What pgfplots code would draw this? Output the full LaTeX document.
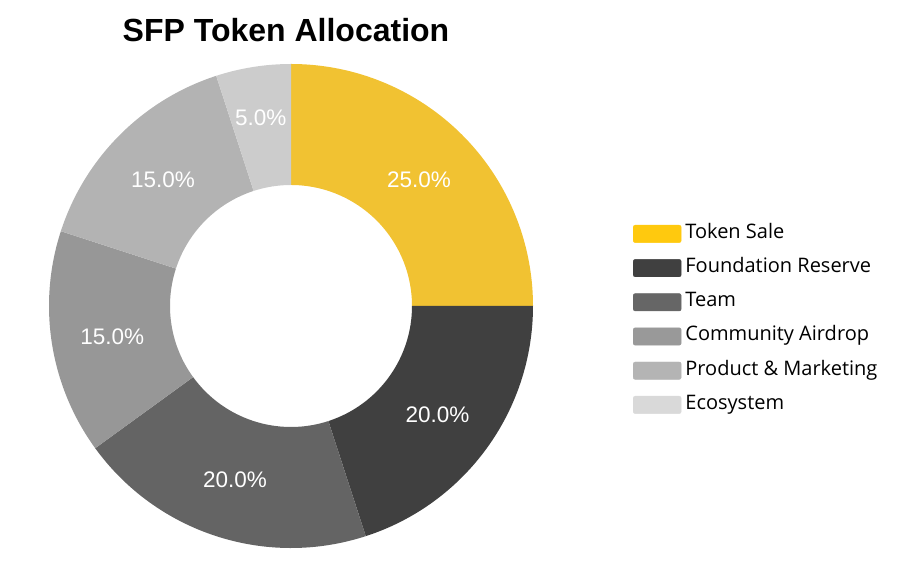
\documentclass[border=0pt]{standalone}
\usepackage{pgfplots}
\pgfplotsset{compat=1.18}
\usepackage{fontspec}
\setmainfont{Liberation Sans}
\newfontfamily\legfont{Open Sans}

% slice colours
\definecolor{pieA}{HTML}{F1C232}
\definecolor{pieB}{HTML}{404040}
\definecolor{pieC}{HTML}{646464}
\definecolor{pieD}{HTML}{979797}
\definecolor{pieE}{HTML}{B3B3B3}
\definecolor{pieF}{HTML}{CCCCCC}
% legend colours (a touch different in the original)
\definecolor{legA}{HTML}{FFC90E}
\definecolor{legB}{HTML}{404040}
\definecolor{legC}{HTML}{666666}
\definecolor{legD}{HTML}{999999}
\definecolor{legE}{HTML}{B4B4B4}
\definecolor{legF}{HTML}{D9D9D9}

\begin{document}
\begin{tikzpicture}
  \begin{axis}[
      x=1bp, y=1bp,
      xmin=0, xmax=918, ymin=0, ymax=577,
      scale only axis,
      hide axis,
      clip=false,
      sw/.style={legend image code/.code={
          \fill[#1, rounded corners=2bp] (0bp,-8.7bp) rectangle (48bp,8.7bp);}},
      legend cell align=left,
      legend style={
        at={(axis cs:633,352)}, anchor=north west,
        draw=none, fill=none, inner sep=0pt, outer sep=0pt,
        column sep=4bp, row sep=16.4bp,
        font=\legfont\fontsize{20bp}{24bp}\selectfont,
        nodes={inner sep=0pt, text height=13bp, text depth=4bp},
      },
    ]
    \addlegendimage{sw=legA}\addlegendentry{Token Sale}
    \addlegendimage{sw=legB}\addlegendentry{Foundation Reserve}
    \addlegendimage{sw=legC}\addlegendentry{Team}
    \addlegendimage{sw=legD}\addlegendentry{Community Airdrop}
    \addlegendimage{sw=legE}\addlegendentry{Product \& Marketing}
    \addlegendimage{sw=legF}\addlegendentry{Ecosystem}

    % donut, clockwise from 12 o'clock; centre (291,271), radii 242 / 121
    % value / colour / label radius
    \gdef\cum{90}
    \foreach \v/\c/\r in {25/pieA/181, 20/pieB/181, 20/pieC/181, 15/pieD/181, 15/pieE/181, 5/pieF/193}{
      \pgfmathsetmacro\aa{\cum}
      \pgfmathsetmacro\ab{\cum-3.6*\v}
      \pgfmathsetmacro\am{(\aa+\ab)/2}
      \edef\slice{
        \noexpand\fill[\c] ({291+242*cos(\aa)},{271+242*sin(\aa)})
          arc[start angle=\aa, end angle=\ab, radius=242bp]
          -- ({291+121*cos(\ab)},{271+121*sin(\ab)})
          arc[start angle=\ab, end angle=\aa, radius=121bp] -- cycle;
        \noexpand\node[text=white, font=\noexpand\fontsize{22.5bp}{26bp}\noexpand\selectfont]
          at ({291+\r*cos(\am)},{269+\r*sin(\am)}) {\v.0\noexpand\%};
      }
      \slice
      \xdef\cum{\ab}
    }

    \node[anchor=base, font=\bfseries\fontsize{32bp}{38bp}\selectfont]
      at (axis cs:286,535) {SFP Token Allocation};
  \end{axis}
  \useasboundingbox (current axis.south west) rectangle (current axis.north east);
\end{tikzpicture}
\end{document}
